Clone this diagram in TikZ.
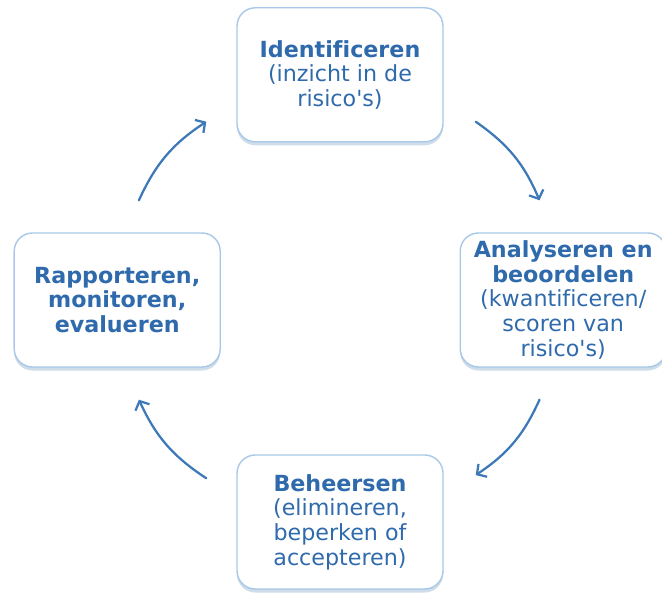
\documentclass[tikz,border=0pt]{standalone}
\usepackage{fontspec}
\setmainfont[Ligatures=NoCommon]{DejaVu Sans}
\usetikzlibrary{calc,shadows,arrows.meta}
\definecolor{boxline}{HTML}{A7C8E8}
\definecolor{boxtext}{HTML}{2F6AAC}
\definecolor{arrowblue}{HTML}{3D79B9}

\begin{document}
\begin{tikzpicture}[
	stap/.style = {draw = boxline, line width = 1pt, fill = white, rounded corners = 13pt,
		minimum width = 5.15cm, minimum height = 3.35cm, align = center,
		text = boxtext, font = \fontsize{15.8}{17.6}\selectfont,
		drop shadow = {shadow xshift = 0pt, shadow yshift = -2.5pt, fill = boxline!80!gray, opacity = 0.5}},
	pijl/.style = {draw = arrowblue, line width = 1.6pt, line cap = round,
		-{Straight Barb[length = 5pt, width = 11pt, line width = 1.6pt]}}
	]
	\useasboundingbox (0,0) rectangle (16.55,14.85);
	
	\node[stap] (ident) at (8.5,12.98) {\textbf{Identificeren}\\(inzicht in de\\risico\textquotesingle s)};
	\node[stap] (analyse) at (14.08,7.35) {\textbf{Analyseren en}\\\textbf{beoordelen}\\(kwantificeren/\\scoren van\\risico\textquotesingle s)};
	\node[stap] (beheer) at (8.5,1.8) {\textbf{Beheersen}\\(elimineren,\\beperken of\\accepteren)};
	\node[stap] (rapport) at (2.93,7.35) {\textbf{Rapporteren,}\\\textbf{monitoren,}\\\textbf{evalueren}};
	
	\draw[pijl] ($(ident.south east)+(0.8,0.52)$) to[bend left = 16] ($(analyse.north west)+(2.0,0.8)$);
	\draw[pijl] ($(analyse.south west)+(2.0,-0.8)$) to[bend left = 16] ($(beheer.north east)+(0.8,-0.52)$);
	\draw[pijl] ($(beheer.north west)+(-0.75,-0.6)$) to[bend left = 16] ($(rapport.south east)+(-2.05,-0.8)$);
	\draw[pijl] ($(rapport.north east)+(-2.05,0.8)$) to[bend left = 16] ($(ident.south west)+(-0.75,0.52)$);
	
\end{tikzpicture}
\end{document}
